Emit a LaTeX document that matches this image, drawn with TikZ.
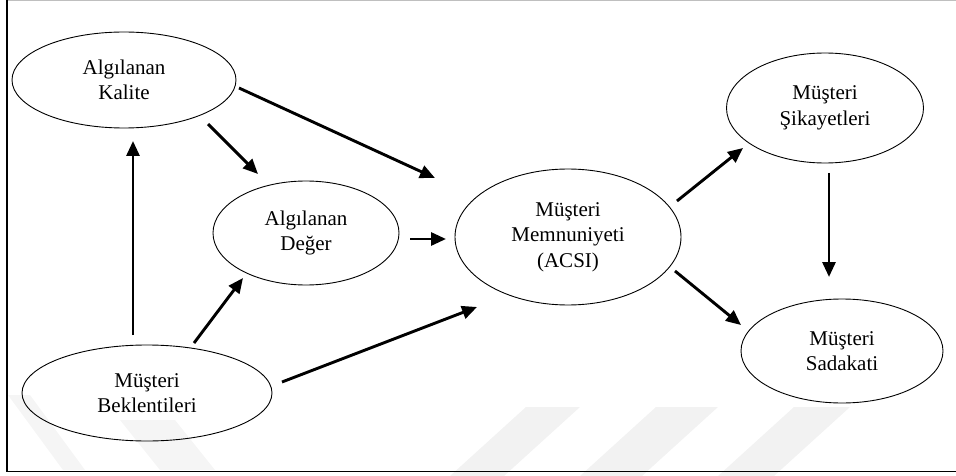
\documentclass[tikz,border=0pt]{standalone}
\usepackage{fontspec}
\setmainfont{Liberation Serif}
\usetikzlibrary{shapes.geometric,arrows.meta}

\tikzset{
  oval/.style={ellipse, draw=black, line width=0.9pt, inner sep=0pt,
    align=center, font=\fontsize{21pt}{25.5pt}\selectfont},
  link/.style={line width=2.9pt, -{Triangle[length=15pt,width=13pt]}},
  frameline/.style={line width=1.4pt},
  stripe/.style={fill=black!5, draw=none}
}

\begin{document}
\begin{tikzpicture}[x=1pt,y=-1pt]
  \useasboundingbox (0,0) rectangle (956,476);

  % faint diagonal stripes behind the frame bottom
  \fill[stripe] (526,407) -- (580,407) -- (504,476) -- (450,476) -- cycle;
  \fill[stripe] (656,407) -- (718,407) -- (642,476) -- (580,476) -- cycle;
  \fill[stripe] (794,407) -- (850,407) -- (774,476) -- (718,476) -- cycle;
  \fill[stripe, black!4] (8,395) -- (30,395) -- (85,470) -- (63,470) -- cycle;
  \fill[stripe, black!4] (120,420) -- (175,420) -- (215,470) -- (160,470) -- cycle;

  % frame
  \draw[black!25, line width=1pt] (7,0.5) -- (956,0.5);
  \draw[frameline] (7,0) -- (7,471.5) -- (956,471.5);

  % constructs
  \node[oval, minimum width=224pt, minimum height=96pt]  (kal) at (124,80)  {Algılanan\\Kalite};
  \node[oval, minimum width=186pt, minimum height=104pt] (deg) at (306,233) {Algılanan\\Değer};
  \node[oval, minimum width=250pt, minimum height=96pt]  (bek) at (147,393) {Müşteri\\Beklentileri};
  \node[oval, minimum width=226pt, minimum height=136pt] (mem) at (568,237) {Müşteri\\Memnuniyeti\\(ACSI)};
  \node[oval, minimum width=197pt, minimum height=110pt] (sik) at (825,108) {Müşteri\\Şikayetleri};
  \node[oval, minimum width=202pt, minimum height=104pt] (sad) at (842,351) {Müşteri\\Sadakati};

  % arrow end points (arrows stop short of the ovals)
  \coordinate (kalA) at (239,88);   \coordinate (memA) at (435,178);
  \coordinate (kalB) at (208,124);  \coordinate (degB) at (258,174);
  \coordinate (bekC) at (133,335);  \coordinate (kalC) at (133,141);
  \coordinate (bekD) at (194,343);  \coordinate (degD) at (243,278);
  \coordinate (bekE) at (282,382);  \coordinate (memE) at (477,307);
  \coordinate (degF) at (410,239);  \coordinate (memF) at (446,239);
  \coordinate (memG) at (677,201);  \coordinate (sikG) at (743,148);
  \coordinate (sikH) at (829,173);  \coordinate (sadH) at (829,277);
  \coordinate (memI) at (675,271);  \coordinate (sadI) at (741,325);

  % relations
  \draw[link] (kalA) -- (memA);
  \draw[link] (kalB) -- (degB);
  \draw[link] (bekC) -- (kalC);
  \draw[link] (bekD) -- (degD);
  \draw[link] (bekE) -- (memE);
  \draw[link] (degF) -- (memF);
  \draw[link] (memG) -- (sikG);
  \draw[link] (sikH) -- (sadH);
  \draw[link] (memI) -- (sadI);
\end{tikzpicture}
\end{document}
